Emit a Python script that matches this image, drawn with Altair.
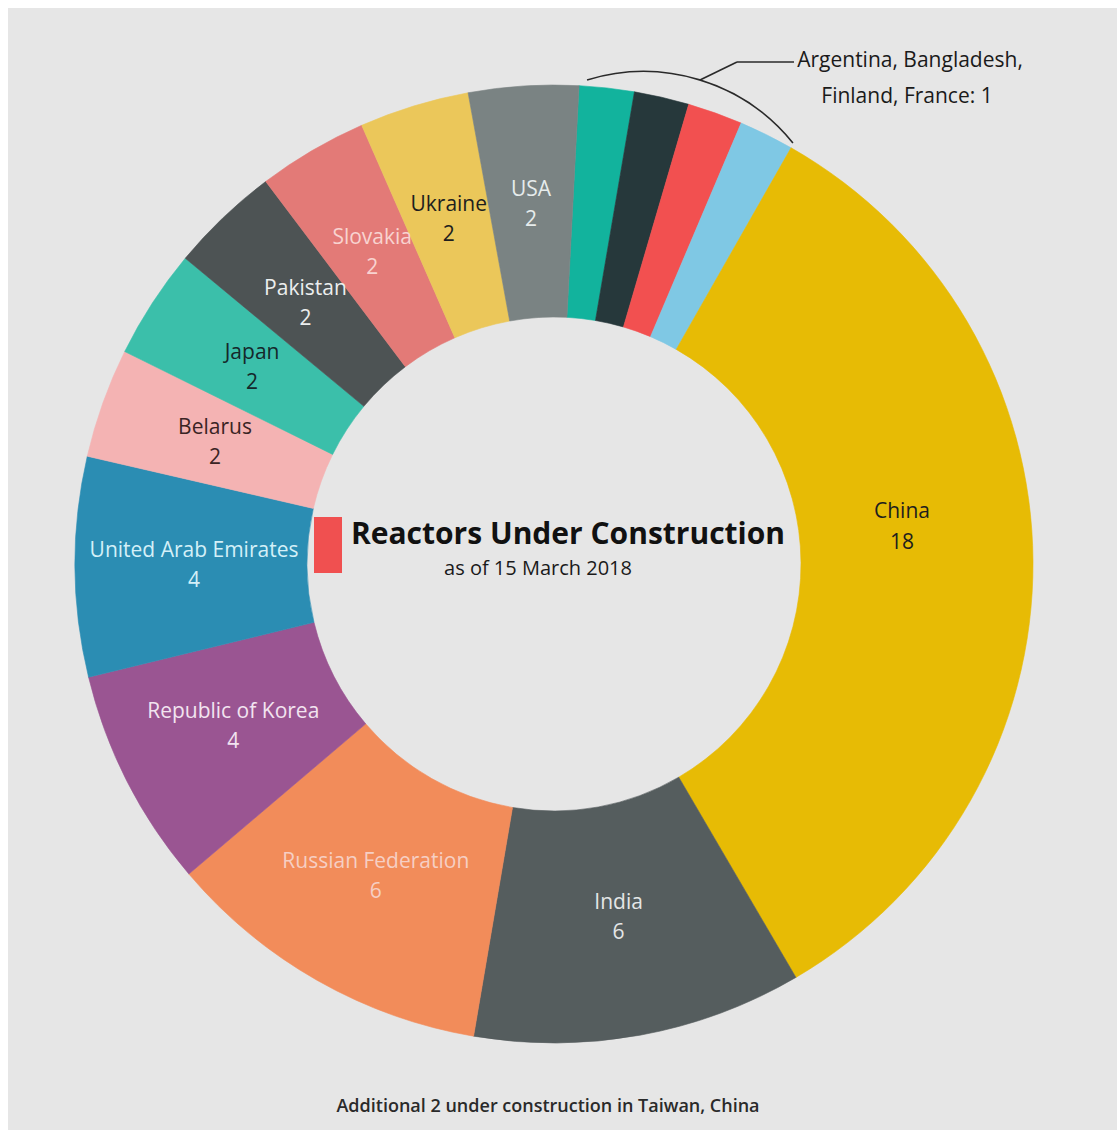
import math
import altair as alt
import pandas as pd

# ---- data ----
countries = ["Argentina", "Bangladesh", "Finland", "France", "China", "India",
             "Russian Federation", "Republic of Korea", "United Arab Emirates",
             "Belarus", "Japan", "Pakistan", "Slovakia", "Ukraine", "USA"]
reactors = [1, 1, 1, 1, 18, 6, 6, 4, 4, 2, 2, 2, 2, 2, 2]
fills = ["#12b39d", "#26383b", "#f25050", "#7fc8e4", "#e7bb05", "#555d5e",
         "#f28c5a", "#9a5592", "#2b8db3", "#f4b3b3", "#3bbfaa", "#4d5354",
         "#e37a77", "#ebc75a", "#7a8383"]
label_colors = ["#222222", "#222222", "#222222", "#222222", "#1e1e1e", "#e4e6e6",
                "#f6cfc4", "#f2e4f0", "#d4f0f8", "#3a2424", "#15282a", "#eceeee",
                "#f8d3d0", "#1e1e1e", "#e6ecec"]
show_label = [False, False, False, False, True, True, True, True, True,
              True, True, True, True, True, True]

title_text = "Reactors Under Construction"
subtitle_text = "as of 15 March 2018"
note_lines = ["Argentina, Bangladesh,", "Finland, France: 1"]
footer_text = "Additional 2 under construction in Taiwan, China"

df = pd.DataFrame({
    "country": countries,
    "reactors": reactors,
    "idx": list(range(len(countries))),
    "tcolor": label_colors,
})
df["label"] = [f"{c}\n{v}" if s and c != "China" else "" for c, v, s in zip(countries, reactors, show_label)]
df["label_china"] = [f"{c}\n{v}" if c == "China" else "" for c, v in zip(countries, reactors)]

FONT = "Open Sans"
start = math.radians(3.0)
theta_scale = alt.Scale(range=[start, start + 2 * math.pi])
cx, cy = 546, 556  # donut centre inside the plot area

base = alt.Chart(df)
theta = alt.Theta("reactors:Q", stack=True, scale=theta_scale)
order = alt.Order("idx:Q", sort="ascending")
color_scale = alt.Scale(domain=countries, range=fills)

donut = base.mark_arc(innerRadius=247, outerRadius=479, strokeWidth=0.6).encode(
    theta=theta,
    order=order,
    color=alt.Color("country:N", scale=color_scale, legend=None),
    stroke=alt.Stroke("country:N", scale=color_scale, legend=None),
    x=alt.value(cx), y=alt.value(cy),
)

labels = base.mark_text(radius=360, dy=-15, font=FONT, fontSize=21, lineBreak="\n",
                        lineHeight=30, align="center", baseline="middle").encode(
    theta=theta,
    order=order,
    text="label:N",
    color=alt.Color("tcolor:N", scale=None),
    x=alt.value(cx), y=alt.value(cy),
)

labels_china = base.mark_text(radius=348, dy=-50, font=FONT, fontSize=21, lineBreak="\n",
                              lineHeight=31, align="center", baseline="middle").encode(
    theta=theta,
    order=order,
    text="label_china:N",
    color=alt.Color("tcolor:N", scale=None),
    x=alt.value(cx), y=alt.value(cy),
)

marker = alt.Chart().mark_rect(color="#f05050").encode(
    x=alt.value(306), x2=alt.value(334), y=alt.value(509), y2=alt.value(565))

title = alt.Chart().mark_text(text=title_text, font=FONT, fontSize=30, fontWeight="bold",
                              color="#111111", align="center", baseline="alphabetic").encode(
    x=alt.value(560), y=alt.value(536))
subtitle = alt.Chart().mark_text(text=subtitle_text, font=FONT, fontSize=20,
                                 color="#1a1a1a", align="center", baseline="alphabetic").encode(
    x=alt.value(530), y=alt.value(567))

note1 = alt.Chart().mark_text(text=note_lines[0], font=FONT, fontSize=21, color="#1a1a1a",
                              align="center", baseline="alphabetic").encode(
    x=alt.value(902), y=alt.value(59))
note2 = alt.Chart().mark_text(text=note_lines[1], font=FONT, fontSize=21, color="#1a1a1a",
                              align="center", baseline="alphabetic").encode(
    x=alt.value(899), y=alt.value(95))

bracket = alt.Chart().mark_arc(innerRadius=192, outerRadius=192, fill="transparent",
                               stroke="#2a2a2a", strokeWidth=1.6).encode(
    theta=alt.value(2 * math.pi - math.radians(17.1)),
    theta2=alt.value(2 * math.pi + math.radians(51.1)),
    x=alt.value(635.5), y=alt.value(255.5))
leader1 = alt.Chart().mark_rule(color="#2a2a2a", strokeWidth=1.6).encode(
    x=alt.value(692), y=alt.value(72), x2=alt.value(729), y2=alt.value(54))
leader2 = alt.Chart().mark_rule(color="#2a2a2a", strokeWidth=1.6).encode(
    x=alt.value(729), y=alt.value(54), x2=alt.value(786), y2=alt.value(54))

footer = alt.Chart().mark_text(text=footer_text, font=FONT, fontSize=18, fontWeight=600,
                               color="#2a2a2a", align="center", baseline="alphabetic").encode(
    x=alt.value(540), y=alt.value(1104))

chart = alt.layer(
    donut, labels, labels_china, marker, title, subtitle,
    bracket, leader1, leader2, note1, note2, footer,
).properties(
    width=1109, height=1122,
    padding={"left": 8, "top": 8, "right": 0, "bottom": 0},
    autosize="none",
    background="white",
).configure_view(stroke=None, fill="#e6e6e6")

chart.save("out.html", embed_options={"renderer": "svg", "actions": False})
